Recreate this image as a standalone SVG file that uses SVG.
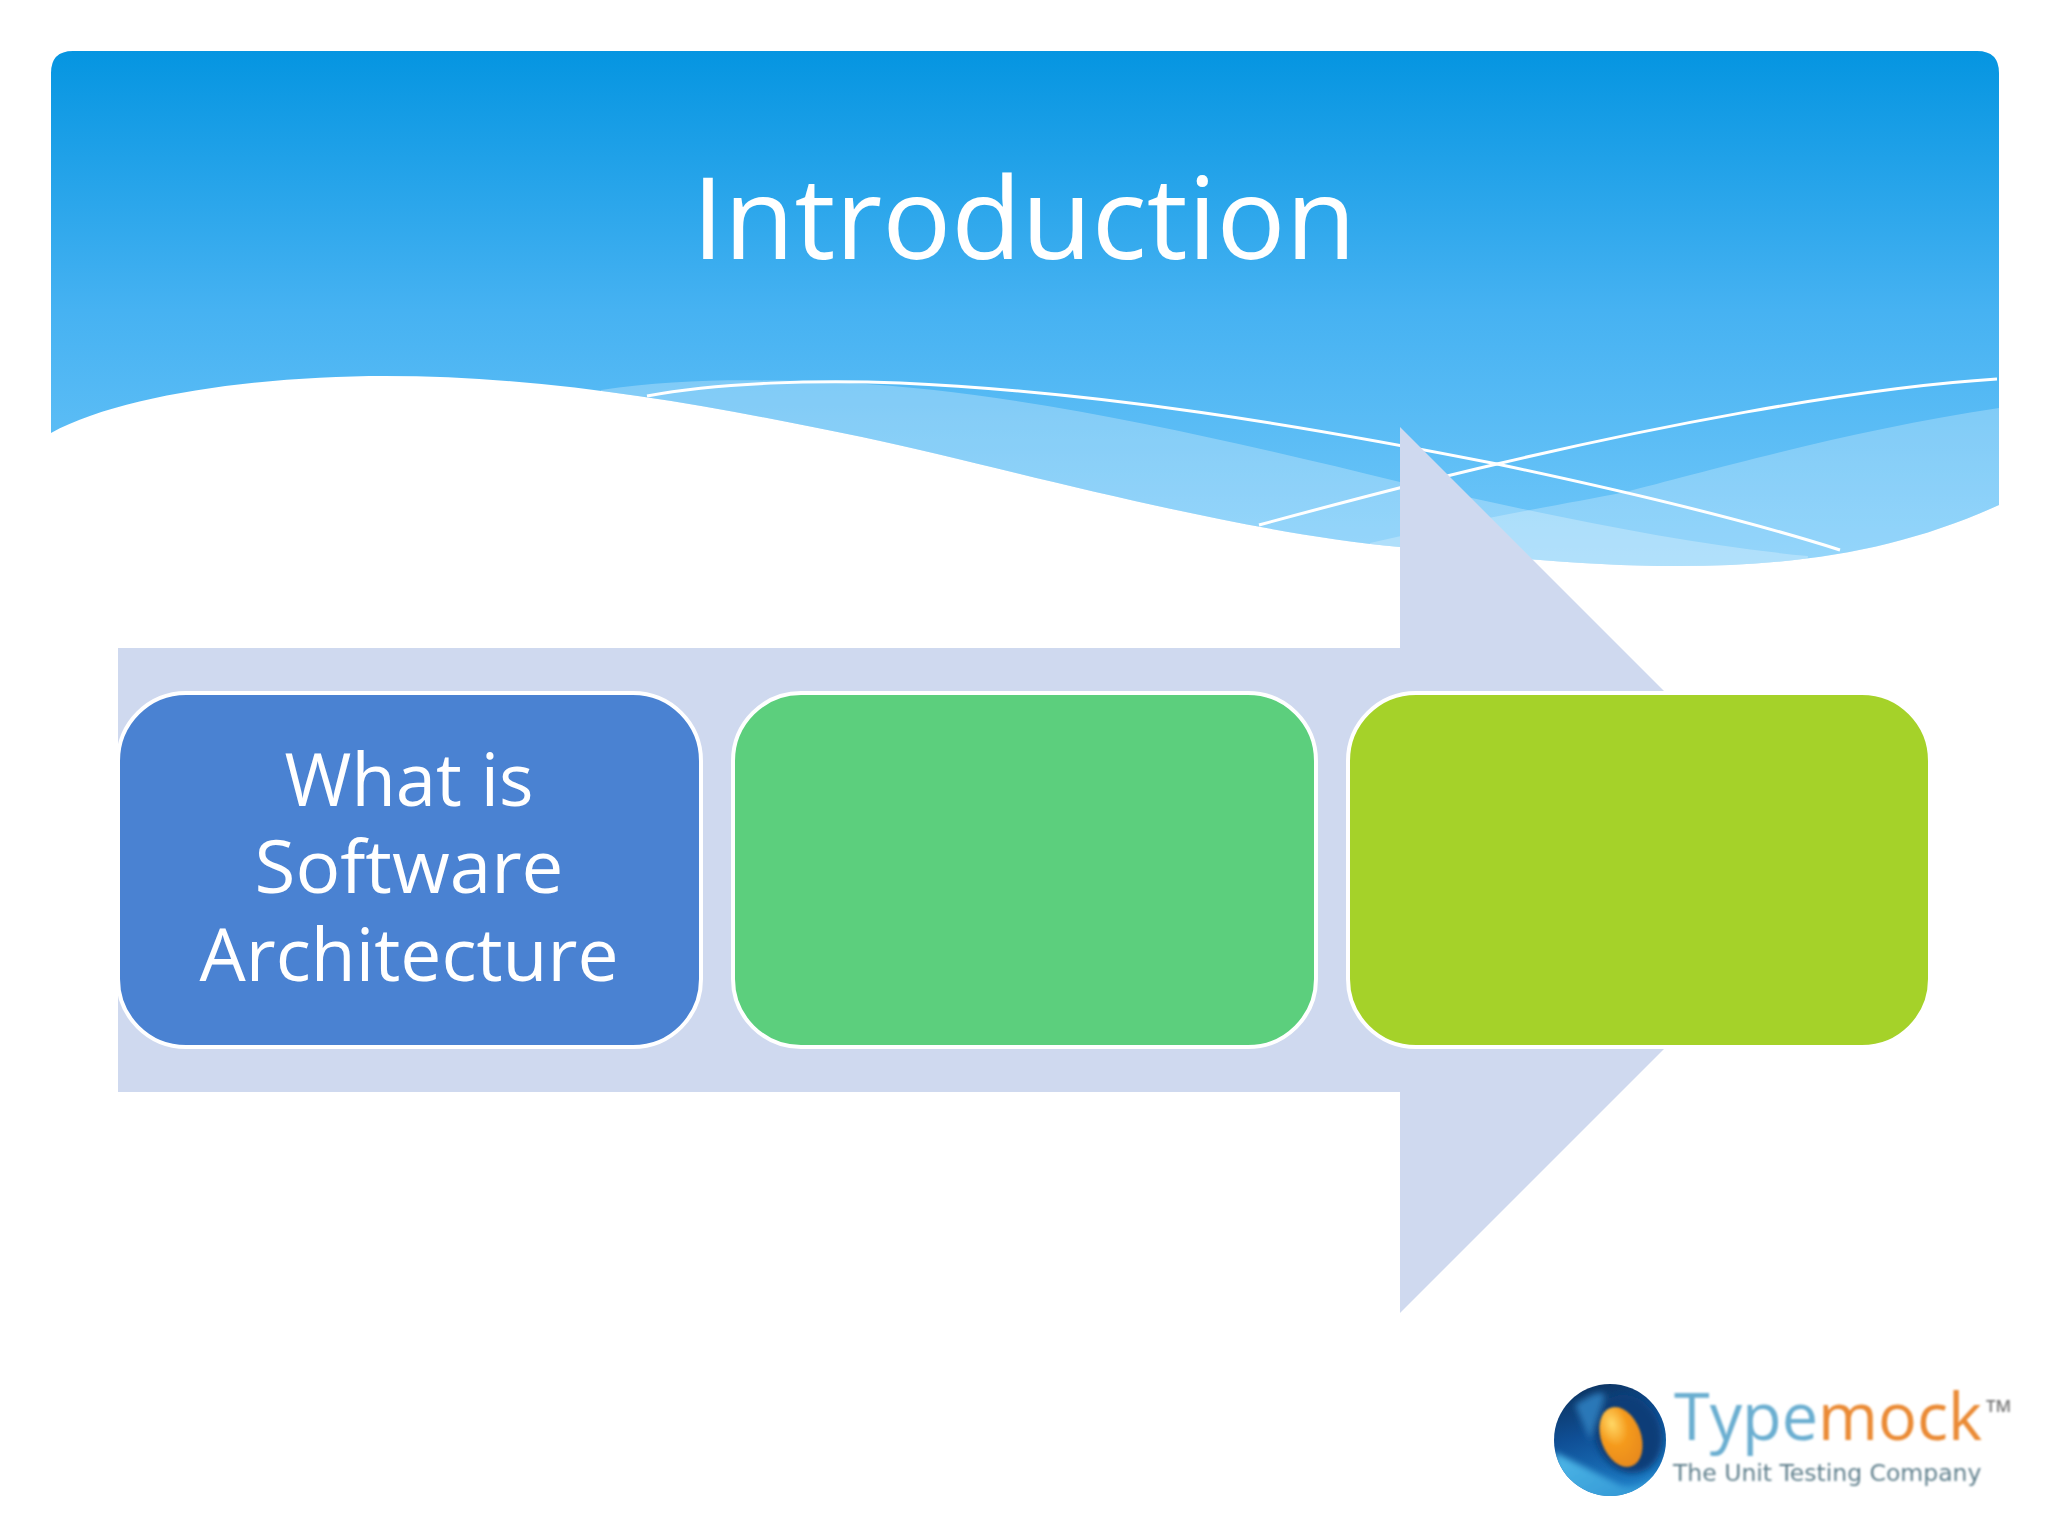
<svg xmlns="http://www.w3.org/2000/svg" width="2048" height="1536" viewBox="0 0 2048 1536">
<defs>
<linearGradient id="sky" gradientUnits="userSpaceOnUse" x1="0" y1="51" x2="0" y2="570"><stop offset="0" stop-color="#0595e1"/><stop offset=".5" stop-color="#46b2f2"/><stop offset="1" stop-color="#72c8f9"/></linearGradient>
<clipPath id="wave"><path d="M51 433C120 395 260 376 385 376C560 376 720 408 862 437C1000 466 1220 530 1400 547C1500 557 1590 566 1677 566C1800 566 1900 550 1999 505V73Q1999 51 1977 51H73Q51 51 51 73Z"/></clipPath>
<clipPath id="ballclip"><circle cx="1610" cy="1440" r="56"/></clipPath>
<radialGradient id="core" cx=".4" cy=".25" r=".75"><stop offset="0" stop-color="#ffd866"/><stop offset=".5" stop-color="#f59a1c"/><stop offset="1" stop-color="#e88a1a"/></radialGradient>
<linearGradient id="ball" x1=".2" y1="0" x2=".5" y2="1"><stop offset="0" stop-color="#0c2f58"/><stop offset=".45" stop-color="#0f4f96"/><stop offset="1" stop-color="#1e7fc8"/></linearGradient>
<linearGradient id="cres" x1="0" y1="0" x2="1" y2="1"><stop offset="0" stop-color="#4fb8e8"/><stop offset="1" stop-color="#2b8fd0"/></linearGradient>
<filter id="soft" x="-5%" y="-5%" width="110%" height="110%"><feGaussianBlur stdDeviation=".8"/></filter>
<filter id="softer" x="-20%" y="-20%" width="140%" height="140%"><feGaussianBlur stdDeviation="3"/></filter>
</defs>
<style>
.box{stroke:#fff;stroke-width:4}
.lbl{font-family:"Open Sans","Noto Sans",sans-serif;fill:#fff;text-anchor:middle;font-size:73px}
.wire{fill:none;stroke:#fff;stroke-width:3}
</style>
<rect width="2048" height="1536" fill="#fff"/>
<g id="header">
<g clip-path="url(#wave)">
<rect x="51" y="51" width="1948" height="530" fill="url(#sky)"/>
<path d="M601 390C680 378 760 379 849 383C1020 392 1220 438 1400 482C1550 516 1690 545 1808 556L1800 600H600Z" fill="#fff" fill-opacity=".27"/>
<path d="M1370 543C1480 518 1560 505 1625 492C1700 473 1850 430 1999 408V600H1370Z" fill="#fff" fill-opacity=".25"/>
</g>
<path class="wire" d="M647 396C720 382 820 380 900 383C1100 392 1300 425 1497 464C1620 490 1740 518 1840 550"/>
<path class="wire" d="M1259 525C1340 503 1420 482 1497 464C1640 430 1850 388 1997 379"/>
</g>
<text id="title" x="1024" y="259" style="font-family:'Open Sans','Noto Sans',sans-serif;font-size:114px;fill:#fff;text-anchor:middle" textLength="664" lengthAdjust="spacingAndGlyphs">Introduction</text>
<path id="arrow" d="M118 648H1400V427L1843 870L1400 1313V1092H118Z" fill="#cfd9ef"/>
<g id="box1"><rect class="box" x="118" y="693" width="583" height="354" rx="68" fill="#4a82d2"/>
<text class="lbl" x="409" y="806" textLength="249" lengthAdjust="spacingAndGlyphs">What is</text>
<text class="lbl" x="409" y="893" textLength="309" lengthAdjust="spacingAndGlyphs">Software</text>
<text class="lbl" x="409" y="981" textLength="419" lengthAdjust="spacingAndGlyphs">Architecture</text></g>
<g id="box2"><rect class="box" x="733" y="693" width="583" height="354" rx="68" fill="#5ccf7d"/></g>
<g id="box3"><rect class="box" x="1348" y="693" width="582" height="354" rx="68" fill="#a5d229"/></g>
<g id="logo">
<g clip-path="url(#ballclip)">
<rect x="1550" y="1380" width="120" height="120" fill="url(#ball)"/>
<g filter="url(#softer)">
<path d="M1554 1452C1575 1462 1600 1475 1620 1485C1635 1490 1650 1480 1665 1470L1650 1505H1560Z" fill="url(#cres)"/>
<ellipse cx="1628" cy="1434" rx="33" ry="40" transform="rotate(-22 1628 1434)" fill="#0d3d78"/>
<path d="M1575 1405C1590 1395 1600 1390 1605 1395L1590 1440Z" fill="#2a78b8"/>
</g>
</g>
<ellipse cx="1621" cy="1437" rx="20" ry="31" transform="rotate(-20 1621 1437)" fill="url(#core)" filter="url(#soft)"/>
<g filter="url(#soft)">
<text x="1674" y="1440" style="font-family:'Open Sans',sans-serif;font-size:66px" fill="#6aaed0" textLength="308" lengthAdjust="spacingAndGlyphs">Type<tspan fill="#ea8a34">mock</tspan></text>
<text x="1986" y="1412" style="font-family:'Open Sans',sans-serif;font-size:17px;font-weight:600" fill="#777">TM</text>
<text x="1673" y="1481" style="font-family:'DejaVu Sans',sans-serif;font-size:23.5px" fill="#5f7f8c">The Unit Testing Company</text>
</g>
</g>
</svg>
